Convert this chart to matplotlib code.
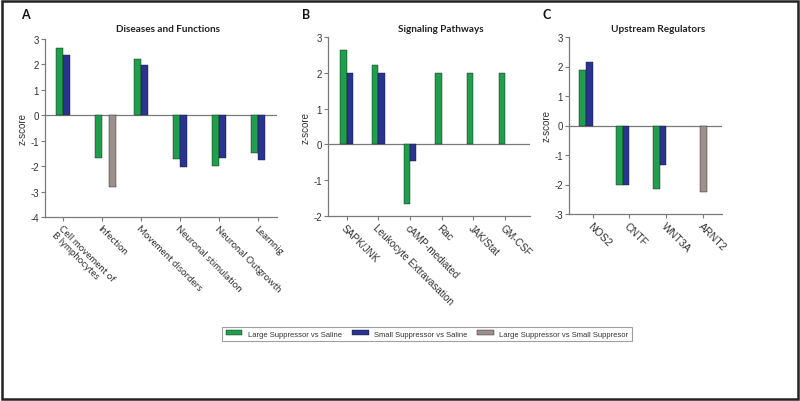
import numpy as np
import matplotlib
matplotlib.use("Agg")
import matplotlib.pyplot as plt
from matplotlib.patches import Patch, Rectangle

# ---------------- data ----------------
cats_a = ["Cell movement of\nB lymphocytes", "Infection", "Movement disorders",
          "Neuronal stimulation", "Neuronal Outgrowth", "Learnnig"]
green_a = [2.63, -1.67, 2.22, -1.72, -1.99, -1.47]
blue_a = [2.39, np.nan, 1.98, -2.02, -1.68, -1.74]
gray_a = [np.nan, -2.82, np.nan, np.nan, np.nan, np.nan]

cats_b = ["SAPK/JNK", "Leukocyte Extravasation", "cAMP-mediated", "Rac", "JAK/Stat", "GM-CSF"]
green_b = [2.64, 2.23, -1.67, 2.0, 2.0, 2.0]
blue_b = [2.0, 2.0, -0.47, np.nan, np.nan, np.nan]

cats_c = ["NOS2", "CNTF", "WNT3A", "ARNT2"]
green_c = [1.87, -2.02, -2.16, np.nan]
blue_c = [2.16, -2.0, -1.35, np.nan]
gray_c = [np.nan, np.nan, np.nan, -2.25]

series_names = ["Large Suppressor vs Saline", "Small Suppressor vs Saline",
                "Large Suppressor vs Small Suppresor"]

# ---------------- style ----------------
GREEN = "#1f9e4c"
BLUE = "#2a3390"
GRAY = "#9d8f8b"
AXC = "#7a7a7a"
SANS = ["Liberation Sans", "DejaVu Sans"]
HUM = ["Lato", "DejaVu Sans"]

W, H = 800, 402
fig = plt.figure(figsize=(W / 100, H / 100), dpi=100)


def px_axes(x0, x1, ytop, ybot):
    return fig.add_axes([x0 / W, 1 - ybot / H, (x1 - x0) / W, (ybot - ytop) / H])


def style_axes(ax, ylim, xlim, cats, label_font, label_size):
    ax.set_ylim(*ylim)
    ax.set_xlim(*xlim)
    ax.set_yticks(range(ylim[0], ylim[1] + 1))
    ax.set_yticklabels([str(v) for v in range(ylim[0], ylim[1] + 1)],
                       fontfamily=SANS, fontsize=7, color="#333333")
    ax.set_xticks(range(len(cats)))
    ax.set_xticklabels(cats, rotation=-45, ha="left", va="top",
                       rotation_mode="anchor", fontfamily=label_font,
                       fontsize=label_size, color="#333333", linespacing=0.95)
    for s in ["top", "right"]:
        ax.spines[s].set_visible(False)
    for s in ["left", "bottom"]:
        ax.spines[s].set_color(AXC)
        ax.spines[s].set_linewidth(0.9)
    ax.tick_params(axis="both", direction="out", length=3, width=0.8,
                   color=AXC, pad=1.5)
    ax.axhline(0, color=AXC, lw=0.9, zorder=1)
    ax.set_ylabel("z-score", fontfamily=SANS, fontsize=7, color="#333333",
                  labelpad=2)


def bars(ax, vals, offset, w, color):
    x = np.arange(len(vals))
    ax.bar(x + offset * w, vals, width=w, color=color, edgecolor="#1a1a1a",
           linewidth=0.3, zorder=2)


# Panel A
axA = px_axes(45, 277, 40, 218)
wA = 0.18
bars(axA, green_a, -0.5, wA, GREEN)
bars(axA, blue_a, 0.5, wA, BLUE)
bars(axA, gray_a, 1.5, wA, GRAY)
style_axes(axA, (-4, 3), (-0.46, 5.48), cats_a, HUM, 7)

# Panel B
axB = px_axes(328, 530, 38, 217)
wB = 0.2
bars(axB, green_b, -0.5, wB, GREEN)
bars(axB, blue_b, 0.5, wB, BLUE)
style_axes(axB, (-2, 3), (-0.59, 5.79), cats_b, SANS, 7.2)

# Panel C
axC = px_axes(569, 722, 38, 215)
wC = 0.18
bars(axC, green_c, -1.5, wC, GREEN)
bars(axC, blue_c, -0.5, wC, BLUE)
bars(axC, gray_c, 0.0, wC, GRAY)
style_axes(axC, (-3, 3), (-0.64, 3.51), cats_c, SANS, 7.6)

# titles and panel letters
def ftext(x, y, s, **kw):
    fig.text(x / W, 1 - y / H, s, **kw)

ftext(168, 29, "Diseases and Functions", ha="center", va="center",
      fontfamily=HUM, fontweight="bold", fontsize=7.2, color="#222222")
ftext(441, 29, "Signaling Pathways", ha="center", va="center",
      fontfamily=HUM, fontweight="bold", fontsize=7.2, color="#222222")
ftext(658, 29, "Upstream Regulators", ha="center", va="center",
      fontfamily=HUM, fontweight="bold", fontsize=7.2, color="#222222")
ftext(25, 15, "A", ha="center", va="center", fontfamily=HUM,
      fontweight="bold", fontsize=9, color="#111111")
ftext(306, 15, "B", ha="center", va="center", fontfamily=HUM,
      fontweight="bold", fontsize=9, color="#111111")
ftext(547, 15, "C", ha="center", va="center", fontfamily=HUM,
      fontweight="bold", fontsize=9, color="#111111")

# legend
handles = [Patch(facecolor=c, edgecolor="#1a1a1a", linewidth=0.3)
           for c in (GREEN, BLUE, GRAY)]
leg = fig.legend(handles, series_names, loc="center",
                 bbox_to_anchor=(427 / W, 1 - 335 / H), ncol=3,
                 prop={"family": SANS, "size": 5.5}, frameon=True,
                 fancybox=False, edgecolor="#888888", handlelength=2.2,
                 handleheight=0.6, columnspacing=1.3, borderpad=0.5,
                 handletextpad=0.7)
leg.get_frame().set_linewidth(0.8)
for t in leg.get_texts():
    t.set_color("#333333")

# outer border
fig.add_artist(Rectangle((1.5 / W, 2.5 / H), (W - 4) / W, (H - 4.5) / H,
                         transform=fig.transFigure, fill=False,
                         edgecolor="#222222", linewidth=1.8))

fig.savefig("out.png", dpi=100)
